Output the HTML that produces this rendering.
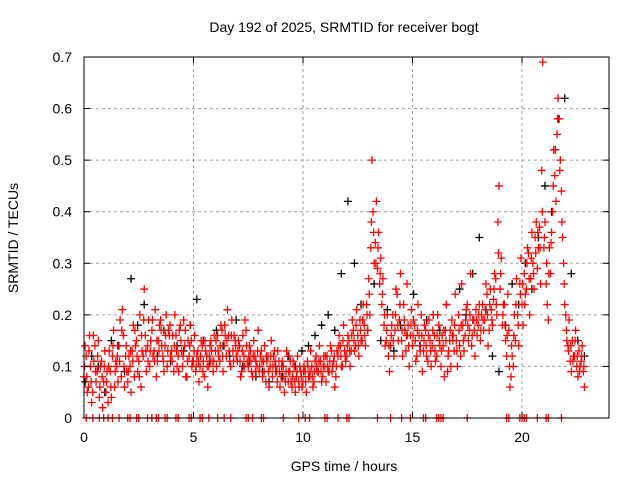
<!DOCTYPE html>
<html><head><meta charset="utf-8"><style>
body{margin:0;background:#fff}
svg text{font-family:"Liberation Sans",sans-serif;font-size:14px;fill:#000}
</style></head><body>
<svg id="c" width="640" height="480">
<rect width="640" height="480" fill="#fff"/>
<g id="grid"></g><g id="pts"></g><g id="ax"></g>
<text x="344" y="32" text-anchor="middle">Day 192 of 2025, SRMTID for receiver bogt</text>
<text x="344" y="471" text-anchor="middle">GPS time / hours</text>
<text transform="translate(18,238) rotate(-90)" text-anchor="middle">SRMTID / TECUs</text>
</svg>
<script>
const xTicks=[0,5,10,15,20];
const yTicks=[0,0.1,0.2,0.3,0.4,0.5,0.6,0.7];
const yLabels=["0","0.1","0.2","0.3","0.4","0.5","0.6","0.7"];
const redA=[0.08,0.12,0.06,0.10,0.05,0.14,0.09,0.04,0.11,0.07,
0.05,0.03,0.09,0.12,0.06,0.10,0.14,0.08,0.16,0.12,
0.07,0.10,0.13,0.08,0.15,0.11,0.06,0.12,0.16,0.14,
0.10,0.17,0.13,0.08,0.15,0.19,0.12,0.14,0.10,0.16,
0.13,0.09,0.16,0.12,0.18,0.10,0.14,0.08,0.12,0.15,
0.11,0.09,0.13,0.10,0.14,0.08,0.12,0.10,0.15,0.09,
0.13,0.16,0.11,0.17,0.14,0.12,0.16,0.10,0.13,0.15,
0.11,0.14,0.09,0.12,0.17,0.10,0.13,0.08,0.12,0.10,
0.09,0.13,0.11,0.07,0.12,0.10,0.08,0.13,0.09,0.11,
0.08,0.10,0.07,0.12,0.09,0.06,0.10,0.08,0.07,0.09,
0.07,0.09,0.11,0.08,0.10,0.07,0.12,0.09,0.11,0.08,
0.10,0.12,0.09,0.13,0.11,0.08,0.12,0.14,0.10,0.13,
0.12,0.15,0.13,0.17,0.14,0.16,0.19,0.15,0.18,0.22,
0.27,0.33,0.40,0.34,0.29,0.26,0.22,0.18,0.15,0.12,
0.14,0.20,0.17,0.24,0.19,0.15,0.22,0.13,0.18,0.16,
0.14,0.18,0.12,0.16,0.20,0.13,0.17,0.11,0.15,0.14,
0.16,0.12,0.18,0.10,0.14,0.17,0.09,0.15,0.19,0.13,
0.15,0.20,0.12,0.18,0.16,0.22,0.17,0.14,0.19,0.21,
0.18,0.15,0.22,0.19,0.24,0.17,0.21,0.23,0.27,0.38,
0.25,0.18,0.22,0.12,0.17,0.08,0.10,0.15,0.20,0.26,
0.22,0.28,0.25,0.32,0.27,0.30,0.35,0.29,0.37,0.48,
0.33,0.26,0.19,0.28,0.40,0.47,0.55,0.58,0.44,0.30,
0.20,0.14,0.11,0.15,0.12,0.10,0.13,0.11,0.09];
const redB=[0.14,0.05,0.16,0.03,0.11,0.07,0.15,0.10,0.02,0.13,
0.09,0.13,0.04,0.17,0.11,0.07,0.19,0.21,0.06,0.09,
0.12,0.05,0.18,0.14,0.09,0.20,0.13,0.25,0.09,0.19,
0.15,0.12,0.21,0.11,0.18,0.14,0.09,0.20,0.17,0.12,
0.16,0.20,0.10,0.17,0.13,0.19,0.08,0.15,0.18,0.11,
0.16,0.12,0.07,0.15,0.11,0.13,0.06,0.14,0.11,0.16,
0.10,0.12,0.18,0.09,0.16,0.21,0.11,0.19,0.16,0.12,
0.15,0.08,0.16,0.19,0.11,0.14,0.09,0.15,0.11,0.17,
0.12,0.08,0.14,0.11,0.06,0.15,0.12,0.09,0.13,0.06,
0.11,0.05,0.13,0.09,0.07,0.11,0.05,0.12,0.10,0.06,
0.10,0.05,0.08,0.13,0.06,0.11,0.09,0.14,0.07,0.12,
0.07,0.09,0.14,0.10,0.06,0.13,0.16,0.10,0.18,0.11,
0.16,0.10,0.19,0.13,0.21,0.12,0.15,0.22,0.14,0.17,
0.20,0.50,0.30,0.42,0.36,0.31,0.27,0.14,0.20,0.09,
0.18,0.12,0.25,0.15,0.28,0.12,0.17,0.26,0.10,0.21,
0.19,0.11,0.22,0.13,0.09,0.18,0.12,0.19,0.10,0.20,
0.11,0.20,0.14,0.16,0.08,0.22,0.13,0.10,0.15,0.24,
0.10,0.14,0.26,0.13,0.21,0.15,0.28,0.19,0.12,0.16,
0.22,0.20,0.17,0.26,0.14,0.25,0.18,0.28,0.20,0.45,
0.31,0.22,0.15,0.24,0.06,0.12,0.20,0.27,0.14,0.31,
0.18,0.24,0.33,0.20,0.36,0.25,0.38,0.33,0.26,0.69,
0.38,0.22,0.33,0.36,0.52,0.42,0.62,0.50,0.35,0.22,
0.15,0.19,0.09,0.12,0.17,0.08,0.10,0.14,0.06];
const redC=[0.10,0.08,0.13,0.07,0.16,0.09,0.12,0.06,0.08,0.10,
0.07,0.10,0.06,0.14,0.09,0.12,0.11,0.17,0.10,0.14,
0.09,0.13,0.11,0.17,0.12,0.08,0.16,0.19,0.13,0.11,
0.13,0.19,0.11,0.15,0.13,0.17,0.11,0.16,0.13,0.18,
0.11,0.14,0.13,0.09,0.15,0.12,0.17,0.11,0.14,0.10,
0.13,0.10,0.11,0.12,0.09,0.15,0.10,0.12,0.13,0.11,
0.15,0.13,0.14,0.12,0.18,0.15,0.13,0.16,0.11,0.14,
0.13,0.11,0.13,0.10,0.14,0.12,0.11,0.12,0.09,0.13,
0.10,0.11,0.09,0.12,0.09,0.12,0.10,0.11,0.07,0.09,
0.10,0.08,0.09,0.07,0.11,0.08,0.07,0.09,0.06,0.08,
0.09,0.07,0.10,0.09,0.08,0.09,0.10,0.11,0.09,0.10,
0.12,0.10,0.11,0.09,0.12,0.10,0.14,0.12,0.15,0.12,
0.14,0.13,0.16,0.15,0.18,0.14,0.17,0.19,0.16,0.20,
0.24,0.38,0.36,0.30,0.33,0.28,0.24,0.20,0.17,0.14,
0.16,0.15,0.20,0.18,0.22,0.17,0.19,0.16,0.14,0.18,
0.16,0.15,0.17,0.14,0.16,0.15,0.14,0.16,0.13,0.17,
0.13,0.16,0.15,0.13,0.17,0.15,0.12,0.17,0.16,0.18,
0.13,0.17,0.18,0.15,0.19,0.18,0.20,0.16,0.17,0.19,
0.20,0.17,0.19,0.21,0.20,0.22,0.19,0.25,0.22,0.32,
0.28,0.20,0.18,0.16,0.10,0.14,0.16,0.22,0.18,0.24,
0.26,0.22,0.30,0.27,0.31,0.28,0.32,0.36,0.33,0.40,
0.35,0.30,0.28,0.34,0.45,0.52,0.58,0.48,0.38,0.26,
0.17,0.13,0.14,0.11,0.15,0.12,0.09,0.12,0.10];
const blackK=[0.07,0.12,0.10,0.05,0.15,0.14,0.09,0.27,0.18,0.22,0.15,0.12,0.17,0.11,0.14,0.13,0.18,0.23,0.15,0.11,0.17,0.14,0.12,0.19,0.10,0.11,0.08,0.09,0.07,0.10,0.08,0.12,0.10,0.13,0.14,0.16,0.18,0.20,0.17,0.28,0.42,0.30,0.22,0.17,0.26,0.15,0.21,0.13,0.18,0.16,0.24,0.14,0.19,0.20,0.17,0.22,0.16,0.25,0.20,0.28,0.35,0.21,0.12,0.09,0.18,0.26,0.22,0.30,0.25,0.35,0.45,0.40,0.58,0.62,0.28,0.15,0.12];
const zeroTimes=[0.1,0.4,0.7,0.9,1.1,1.3,1.6,2.0,2.1,2.4,2.5,2.9,3.1,3.3,3.4,3.7,3.8,4.2,4.3,4.8,4.9,5.3,5.4,5.7,6.1,6.4,6.7,7.4,7.5,7.7,8.1,8.2,9.1,9.8,10.1,10.3,11.0,11.1,11.6,12.0,12.1,13.4,14.0,14.5,14.9,15.5,15.6,16.1,16.2,16.3,16.4,17.5,19.3,19.4,19.9,20.0,20.1,20.2,20.7,21.1,21.2,21.8];

const L=84,R=609,T=57,B=418;
const X=t=>L+t*21.9;
const Y=v=>B-v/0.7*(B-T);
const NS="http://www.w3.org/2000/svg";
function mk(tag,attrs,parent){const e=document.createElementNS(NS,tag);for(const k in attrs)e.setAttribute(k,attrs[k]);parent.appendChild(e);return e;}
const grid=document.getElementById('grid'),pts=document.getElementById('pts'),ax=document.getElementById('ax');
xTicks.forEach(t=>{
  if(t>0){const g=mk('line',{x1:X(t),x2:X(t),y1:T,y2:B,stroke:'#a0a0a0','stroke-dasharray':'3,3'},grid);
  
  }
  mk('line',{x1:X(t),x2:X(t),y1:B,y2:B-6,stroke:'#000'},ax);
  mk('line',{x1:X(t),x2:X(t),y1:T,y2:T+6,stroke:'#000'},ax);
  const tx=mk('text',{x:X(t),y:B+24,'text-anchor':'middle'},ax);tx.textContent=t;
  
  
});
yTicks.forEach((v,i)=>{
  if(v>0&&v<0.7){const g=mk('line',{x1:L,x2:R,y1:Y(v),y2:Y(v),stroke:'#a0a0a0','stroke-dasharray':'3,3'},grid);
  
  }
  mk('line',{x1:L,x2:L+6,y1:Y(v),y2:Y(v),stroke:'#000'},ax);
  mk('line',{x1:R,x2:R-6,y1:Y(v),y2:Y(v),stroke:'#000'},ax);
  const tx=mk('text',{x:L-12,y:Y(v)+5,'text-anchor':'end'},ax);tx.textContent=yLabels[i];
  
  
});
const fr=mk('rect',{x:L,y:T,width:R-L,height:B-T,fill:'none',stroke:'#000'},ax);


function plus(t,v,col,name){
  const x=X(t),y=Y(v);
  const p=mk('path',{d:`M${x-4},${y}h8M${x},${y-4}v8`,stroke:col,'stroke-width':1.3,fill:'none'},pts);
  
  
}
blackK.forEach((v,i)=>plus(0.05+0.3*i,v,'#000','black-point'));
redA.forEach((v,i)=>plus(i*0.1,v,'#f00','red-point'));
redB.forEach((v,i)=>plus(i*0.1+0.05,v,'#f00','red-point'));
redC.forEach((v,i)=>plus(i*0.1+0.025,v,'#f00','red-point'));
zeroTimes.forEach(t=>plus(t,0,'#f00','zero-point'));
</script>
</body></html>
